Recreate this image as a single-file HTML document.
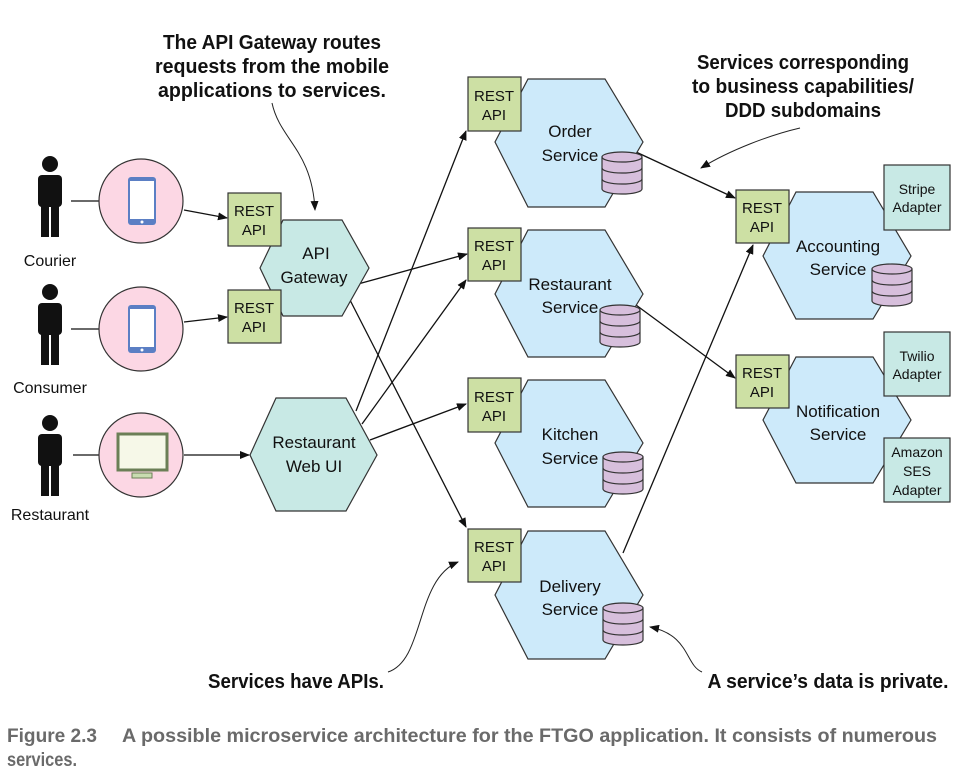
<!DOCTYPE html>
<html><head><meta charset="utf-8"><style>
body{margin:0;background:#fff;width:965px;height:776px;overflow:hidden}
svg text{font-family:"Liberation Sans",sans-serif}
.n{font-family:"Liberation Sans Narrow","Liberation Sans",sans-serif;font-weight:bold}
</style></head><body>
<svg width="965" height="776" viewBox="0 0 965 776" xmlns="http://www.w3.org/2000/svg">
<defs>
<marker id="a" markerWidth="10" markerHeight="8" refX="9" refY="4" orient="auto" markerUnits="userSpaceOnUse"><path d="M0,0 L10,4 L0,8 Z" fill="#111"/></marker>
<g id="db"><path d="M0,5 v32 a20,5 0 0 0 40,0 v-32" fill="#d7bfdc" stroke="#333" stroke-width="1.2"/><ellipse cx="20" cy="5" rx="20" ry="5" fill="#d7bfdc" stroke="#333" stroke-width="1.2"/><path d="M0,16 a20,5 0 0 0 40,0 M0,27 a20,5 0 0 0 40,0" fill="none" stroke="#333" stroke-width="1.2"/></g>
<g id="person" fill="#111"><circle cx="0" cy="-33" r="8"/><rect x="-12" y="-22" width="24" height="32" rx="4"/><rect x="-9" y="5" width="8" height="35"/><rect x="1" y="5" width="8" height="35"/></g>
<g id="phone"><rect x="-14" y="-24" width="28" height="48" rx="3" fill="#5b7fc4"/><rect x="-12" y="-20" width="24" height="38" fill="#fff"/><circle cx="0" cy="21" r="1.5" fill="#fff"/></g>
</defs>
<g stroke="#111" stroke-width="1.3" fill="none">
<line x1="71" y1="201" x2="99" y2="201"/><line x1="71" y1="329" x2="99" y2="329"/><line x1="73" y1="455" x2="99" y2="455"/>
<line x1="184" y1="210" x2="227" y2="218" marker-end="url(#a)"/>
<line x1="184" y1="322" x2="227" y2="317" marker-end="url(#a)"/>
<line x1="184" y1="455" x2="249" y2="455" marker-end="url(#a)"/>
<line x1="358" y1="284" x2="467" y2="254" marker-end="url(#a)"/>
<line x1="350" y1="300" x2="466" y2="527" marker-end="url(#a)"/>
<line x1="356" y1="411" x2="466" y2="131" marker-end="url(#a)"/>
<line x1="362" y1="424" x2="466" y2="280" marker-end="url(#a)"/>
<line x1="370" y1="440" x2="466" y2="404" marker-end="url(#a)"/>
<line x1="636" y1="152" x2="735" y2="198" marker-end="url(#a)"/>
<line x1="636" y1="305" x2="735" y2="378" marker-end="url(#a)"/>
<line x1="623" y1="553" x2="753" y2="245" marker-end="url(#a)"/>
</g>
<g stroke="#222" stroke-width="1" fill="none">
<path d="M272,103 C280,140 312,150 315,210" marker-end="url(#a)"/>
<path d="M800,128 C770,135 730,150 701,168" marker-end="url(#a)"/>
<path d="M388,672 C425,660 415,580 458,562" marker-end="url(#a)"/>
<path d="M702,672 C685,665 690,635 650,627" marker-end="url(#a)"/>
</g>
<use href="#person" x="50" y="197"/><use href="#person" x="50" y="325"/><use href="#person" x="50" y="456"/>
<g font-size="16" fill="#111" text-anchor="middle"><text x="50" y="266">Courier</text><text x="50" y="393">Consumer</text><text x="50" y="520">Restaurant</text></g>
<g fill="#fcd7e4" stroke="#333" stroke-width="1.2"><circle cx="141" cy="201" r="42"/><circle cx="141" cy="329" r="42"/><circle cx="141" cy="455" r="42"/></g>
<use href="#phone" x="142" y="201"/><use href="#phone" x="142" y="329"/>
<rect x="118" y="434" width="49" height="36" fill="#f6f8e8" stroke="#6b7f56" stroke-width="3"/><path d="M132,473 h20 v5 h-20 z" fill="#c9dcb0" stroke="#6b7f56"/>
<g fill="#c8e9e5" stroke="#333" stroke-width="1.2">
<path d="M283,220 L342,220 L369,268 L342,316 L283,316 L260,268 Z"/>
<path d="M276,398 L346,398 L377,455 L346,511 L276,511 L250,455 Z"/>
</g>
<g font-size="17" fill="#111" text-anchor="middle"><text x="316" y="259">API</text><text x="314" y="283">Gateway</text><text x="314" y="448">Restaurant</text><text x="314" y="472">Web UI</text></g>
<g fill="#cdeafa" stroke="#333" stroke-width="1.2">
<path d="M528,79 L605,79 L643,142 L605,207 L528,207 L495,142 Z"/>
<path d="M528,230 L605,230 L643,294 L605,357 L528,357 L495,294 Z"/>
<path d="M528,380 L605,380 L643,443 L605,507 L528,507 L495,443 Z"/>
<path d="M528,531 L605,531 L643,595 L605,659 L528,659 L495,595 Z"/>
<path d="M796,192 L873,192 L911,256 L873,319 L796,319 L763,256 Z"/>
<path d="M796,357 L873,357 L911,420 L873,483 L796,483 L763,420 Z"/>
</g>
<g font-size="17" fill="#111" text-anchor="middle">
<text x="570" y="137">Order</text><text x="570" y="161">Service</text>
<text x="570" y="290">Restaurant</text><text x="570" y="313">Service</text>
<text x="570" y="440">Kitchen</text><text x="570" y="464">Service</text>
<text x="570" y="592">Delivery</text><text x="570" y="615">Service</text>
<text x="838" y="252">Accounting</text><text x="838" y="275">Service</text>
<text x="838" y="417">Notification</text><text x="838" y="440">Service</text>
</g>
<use href="#db" x="602" y="152"/><use href="#db" x="600" y="305"/><use href="#db" x="603" y="452"/><use href="#db" x="603" y="603"/><use href="#db" x="872" y="264"/>
<g fill="#cde0a4" stroke="#333" stroke-width="1.2">
<rect x="228" y="193" width="53" height="53"/><rect x="228" y="290" width="53" height="53"/>
<rect x="468" y="77" width="53" height="54"/><rect x="468" y="228" width="53" height="53"/><rect x="468" y="378" width="53" height="54"/><rect x="468" y="529" width="53" height="53"/>
<rect x="736" y="190" width="53" height="53"/><rect x="736" y="355" width="53" height="53"/>
</g>
<g font-size="15" fill="#111" text-anchor="middle">
<text x="254" y="216">REST</text><text x="254" y="235">API</text>
<text x="254" y="313">REST</text><text x="254" y="332">API</text>
<text x="494" y="101">REST</text><text x="494" y="120">API</text>
<text x="494" y="251">REST</text><text x="494" y="270">API</text>
<text x="494" y="402">REST</text><text x="494" y="421">API</text>
<text x="494" y="552">REST</text><text x="494" y="571">API</text>
<text x="762" y="213">REST</text><text x="762" y="232">API</text>
<text x="762" y="378">REST</text><text x="762" y="397">API</text>
</g>
<g fill="#c8e9e5" stroke="#333" stroke-width="1.2">
<rect x="884" y="165" width="66" height="65"/><rect x="884" y="332" width="66" height="64"/><rect x="884" y="438" width="66" height="64"/>
</g>
<g font-size="14" fill="#111" text-anchor="middle">
<text x="917" y="194">Stripe</text><text x="917" y="212">Adapter</text>
<text x="917" y="361">Twilio</text><text x="917" y="379">Adapter</text>
<text x="917" y="457">Amazon</text><text x="917" y="476">SES</text><text x="917" y="495">Adapter</text>
</g>
<g class="n" font-size="20" fill="#111" text-anchor="middle" lengthAdjust="spacingAndGlyphs">
<text x="272" y="49" textLength="218" lengthAdjust="spacingAndGlyphs">The API Gateway routes</text>
<text x="272" y="73" textLength="234" lengthAdjust="spacingAndGlyphs">requests from the mobile</text>
<text x="272" y="97" textLength="228" lengthAdjust="spacingAndGlyphs">applications to services.</text>
<text x="803" y="69" textLength="212" lengthAdjust="spacingAndGlyphs">Services corresponding</text>
<text x="803" y="93" textLength="222" lengthAdjust="spacingAndGlyphs">to business capabilities/</text>
<text x="803" y="117" textLength="156" lengthAdjust="spacingAndGlyphs">DDD subdomains</text>
<text x="296" y="688" textLength="176" lengthAdjust="spacingAndGlyphs">Services have APIs.</text>
<text x="828" y="688" textLength="241" lengthAdjust="spacingAndGlyphs">A service’s data is private.</text>
</g>
<g class="n" font-size="19" fill="#6a6a6a">
<text x="7" y="742" textLength="90" lengthAdjust="spacingAndGlyphs">Figure 2.3</text>
<text x="122" y="742" textLength="815" lengthAdjust="spacingAndGlyphs">A possible microservice architecture for the FTGO application. It consists of numerous</text>
<text x="7" y="766" textLength="70" lengthAdjust="spacingAndGlyphs">services.</text>
</g>
</svg>
</body></html>
